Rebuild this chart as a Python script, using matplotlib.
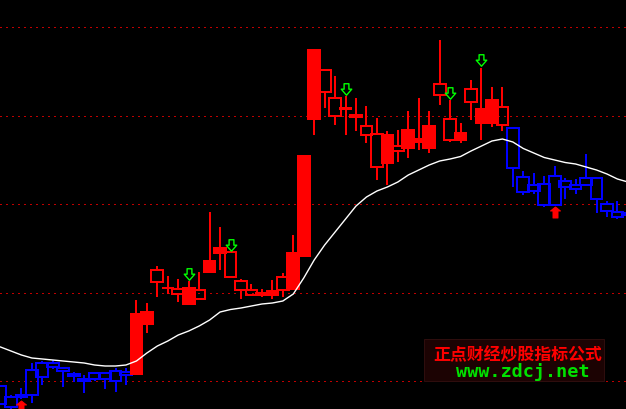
import matplotlib

matplotlib.use("Agg")
import matplotlib.pyplot as plt
import numpy as np
from matplotlib.path import Path
from matplotlib.patches import Rectangle

# price in chart units (one unit = one screen pixel of the original)
opens = [23, 12, 14, 14, 32, 46, 41, 35, 29.7, 30, 36, 28, 37,
         35, 85.3, 139, 121, 120, 105.3, 119, 137.3, 156.3, 156.7, 128, 118.7,
         113.7, 113.7, 132, 120, 153.3, 290, 339, 311, 301, 292, 282.7, 274.7,
         246.3, 263, 261.3, 266.7, 261.3, 325, 289.7, 269.3, 319.7, 286.3, 286.3,
         301.7, 280.7, 231.7, 217.7, 225, 204.3, 228, 220.3, 224.3, 230.7, 204.7,
         196.7, 196.3]
highs = [24, 14, 21, 46, 48, 49, 42, 37, 34, 37, 37, 41, 41,
         109, 105.7, 143, 133, 129.7, 127.7, 137, 196.7, 181.7, 156.7, 129.7, 125,
         120, 129, 136.3, 174, 253, 359, 340, 333.3, 313, 310.7, 303, 290.7,
         278, 279, 298, 310.7, 298, 369, 309, 285.7, 329, 341.3, 321.7,
         321.7, 282, 238, 236.3, 233, 243, 231.3, 230, 255.3, 230.7, 208,
         208.3, 197]
lows = [4, -2, 10, 6, 24, 40, 22, 27, 16, 28, 20, 17, 24,
        34, 76.3, 112.3, 114.7, 107.3, 104, 109, 137.3, 139, 131.7, 109.7, 113.7,
        112.3, 109.7, 112.3, 120, 153.3, 274, 301.3, 284, 274, 278.3, 266.3, 229,
        224, 247.3, 251.3, 259, 256.3, 304, 267.3, 266.3, 289, 269, 282.3,
        278.3, 221.7, 214, 215, 202.3, 204.3, 209.7, 215, 223.7, 195.7, 192.3,
        190, 193]
closes = [5, 2, 12, 39, 46, 42.5, 38, 33.5, 28, 36, 30.5, 38, 34.5,
          95, 97, 127.3, 120.7, 114.7, 121, 110.3, 148, 161, 131.7, 118.7, 113.7,
          116.3, 118, 119, 156, 253, 359, 317.3, 293.3, 300.5, 294, 274.3, 242.3,
          274, 258.3, 279, 269.7, 283, 313.7, 268.7, 276, 306.7, 300, 309,
          283.7, 240.7, 216.7, 223.7, 204.3, 232.7, 221.7, 223.7, 230.7, 209.7, 197.7,
          192.3, 194]
ma_line = [62, 58, 54, 51, 50, 49, 48, 47, 46, 44, 43, 43, 44,
           48, 56, 63, 68, 74, 78, 83, 89, 97, 99.5, 101, 103,
           105, 106, 108, 115, 131, 149, 164, 177, 190, 203, 212, 218,
           222, 227, 234, 239, 244, 248, 250, 252.5, 258, 263, 268,
           270, 267, 260.5, 256, 251.5, 249, 246.5, 245, 242, 239, 235,
           230, 227]
grid_levels = [28, 116.4, 204.8, 293.2, 381.6]
sell_signals = [18, 22, 33, 43, 46]
buy_signals = [2, 53]

RED = "#ff0000"
BLUE = "#0000ff"
PX = 0.72  # one pixel in points at dpi 100

o = np.array(opens)
h = np.array(highs)
l = np.array(lows)
c = np.array(closes)
ma = np.array(ma_line)
idx = np.arange(len(o))

up_trend = c > ma
colors = np.where(up_trend, RED, BLUE)
faces = [RED if (u and cc > oo) else "none" for u, cc, oo in zip(up_trend, c, o)]

fig = plt.figure(figsize=(6.26, 4.09), dpi=100)
fig.patch.set_facecolor("black")
ax = fig.add_axes([0, 0, 1, 1])
ax.set_facecolor("black")
ax.set_xlim(-0.048, 59.82)
ax.set_ylim(0, 409)
ax.axis("off")

for lv in grid_levels:
    ax.axhline(lv, color="#c00000", lw=PX, linestyle=(0, (1.4, 4.2)), zorder=1,
               antialiased=False)

top = np.maximum(o, c)
bot = np.minimum(o, c)
ax.vlines(idx, top, h, colors=colors, lw=1.1, zorder=2, antialiased=False)
ax.vlines(idx, l, bot, colors=colors, lw=1.1, zorder=2, antialiased=False)
bars = ax.bar(idx, c - o, bottom=o, width=1.12, facecolor=faces,
              edgecolor=colors, linewidth=1.1, zorder=3)
for b in bars:
    b.set_antialiased(False)

ax.plot(idx, ma, color="white", lw=1.0, zorder=4)

# signal arrows
down_arrow = Path([(-2.3, 5.5), (2.3, 5.5), (2.3, 0.3), (5, 0.3), (0, -5.5),
                   (-5, 0.3), (-2.3, 0.3), (-2.3, 5.5)], closed=True)
up_arrow = Path([(0, 5.5), (5, 1.5), (2.5, 1.5), (2.5, -5.5), (-2.5, -5.5),
                 (-2.5, 1.5), (-5, 1.5), (0, 5.5)], closed=True)
ax.plot(sell_signals, h[sell_signals] + 7.5, linestyle="none", marker=down_arrow,
        markersize=11.5 * PX, markerfacecolor="black", markeredgecolor="#00ff00",
        markeredgewidth=1.0, zorder=5)
ax.plot(buy_signals, l[buy_signals] - 7.0, linestyle="none", marker=up_arrow,
        markersize=11 * PX, markerfacecolor=RED, markeredgecolor=RED,
        markeredgewidth=PX, zorder=5)

# watermark
ax.add_patch(Rectangle((424 / 626, (409 - 380.7) / 409), 180 / 626, 41.4 / 409,
                       transform=ax.transAxes, facecolor="#1c0303",
                       edgecolor="#2e0d0d", lw=PX, zorder=6))
ax.text(517.7 / 626, (409 - 354.7) / 409, "正点财经炒股指标公式", transform=ax.transAxes,
        ha="center", va="center", color=RED, fontsize=12.2,
        family=["Noto Sans CJK SC", "DejaVu Sans"], weight="bold", zorder=7)
ax.text(522.9 / 626, (409 - 376.7) / 409, "www.zdcj.net", transform=ax.transAxes,
        ha="center", va="baseline", color="#00e000", fontsize=13.3,
        family="DejaVu Sans Mono", weight="bold", zorder=7)

fig.savefig("out.png", dpi=100, facecolor="black")
plt.close(fig)
